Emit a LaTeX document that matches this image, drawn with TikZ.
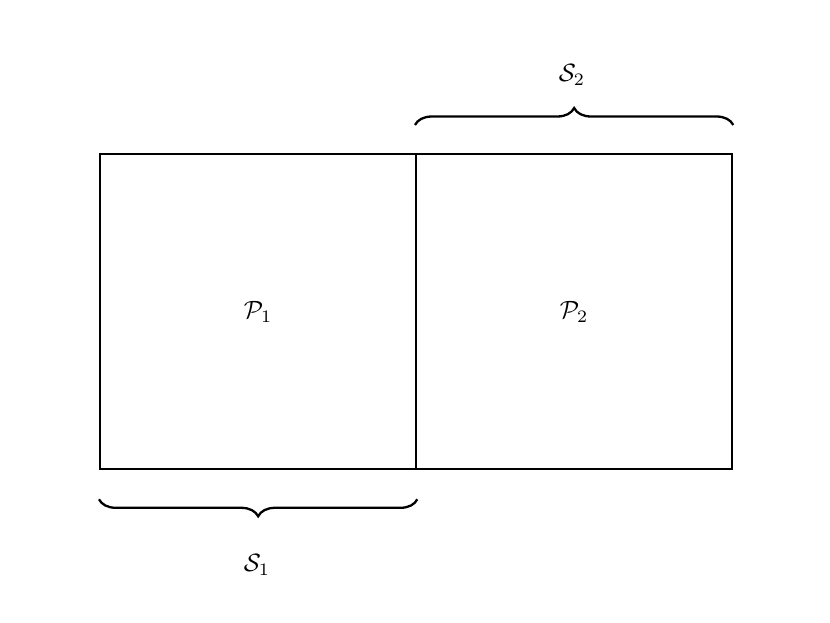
\documentclass[tikz,border=0pt]{standalone}
\usepackage{graphicx}
\usetikzlibrary{decorations.pathreplacing}
\begin{document}
\begin{tikzpicture}[x=1pt,y=-1pt,line width=2.3pt,
  br/.style={decorate,decoration={brace,amplitude=17pt,raise=0pt}}]
\newcommand{\biglbl}[1]{\scalebox{2.5}{$#1$}}
\useasboundingbox (0,0) rectangle (830,623);
\node[draw,minimum width=316pt,minimum height=315pt,inner sep=0pt,anchor=north west] (p1) at (99,153) {};
\node[draw,minimum width=316pt,minimum height=315pt,inner sep=0pt,anchor=north west] (p2) at (415,153) {};
\node (t1) at (p1.center) {\biglbl{\mathcal{P}_1}};
\node (t2) at (p2.center) {\biglbl{\mathcal{P}_2}};
\draw[br] ([yshift=28pt]p2.north west) -- ([yshift=28pt]p2.north east);
\draw[br] ([yshift=-29pt]p1.south east) -- ([yshift=-29pt]p1.south west);
\node (s2) at (572,75) {\biglbl{\mathcal{S}_2}};
\node (s1) at (257,565) {\biglbl{\mathcal{S}_1}};
\end{tikzpicture}
\end{document}
